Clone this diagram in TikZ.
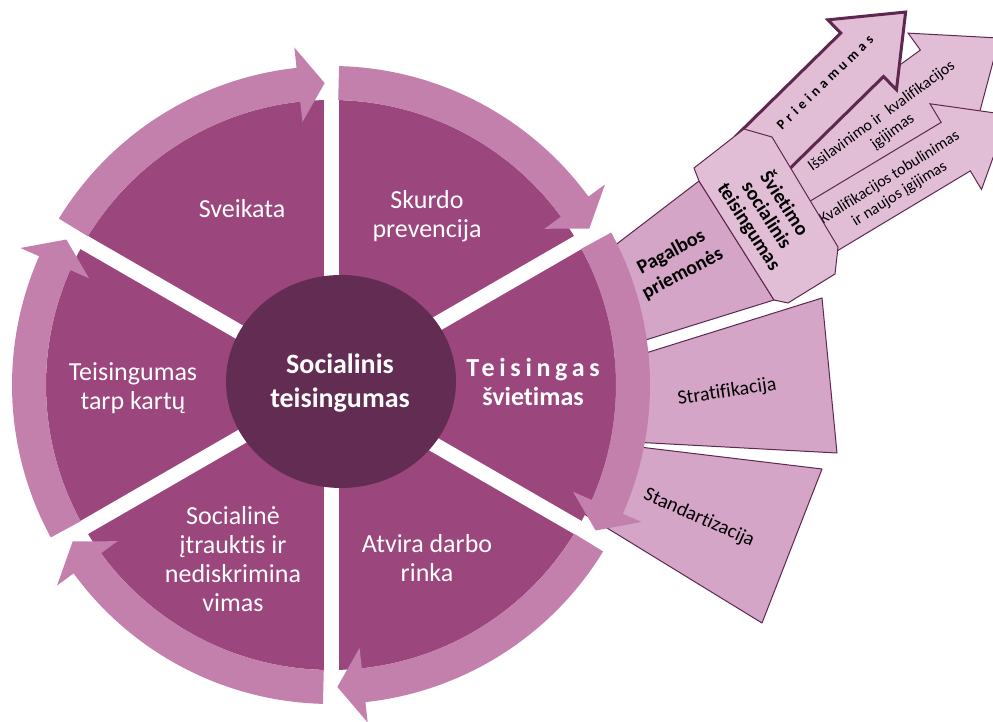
\documentclass[tikz,border=0pt]{standalone}
\usepackage{fontspec}
\setmainfont[Ligatures=NoCommon]{Carlito}
\newfontfamily\spaced[LetterSpace=18,Ligatures=NoCommon]{Carlito}
\newfontfamily\widespaced[LetterSpace=29,Ligatures=NoCommon]{Carlito}
\usetikzlibrary{calc,shapes.geometric}

\definecolor{segpurple}{RGB}{155,70,125}
\definecolor{ringpink}{RGB}{196,128,173}
\definecolor{centerplum}{RGB}{99,44,82}
\definecolor{boxpink}{RGB}{212,165,198}
\definecolor{lightpink}{RGB}{225,189,214}
\definecolor{edgeplum}{RGB}{94,39,80}

\tikzset{
  segtext/.style={text=white, align=center, inner sep=0pt, font=\fontsize{26}{29}\selectfont},
  sidebox/.style={fill=boxpink, draw=edgeplum, line width=1pt, line join=round},
  sidearrow/.style={fill=lightpink, draw=edgeplum, line width=1pt, line join=miter},
  sidetext/.style={align=center, inner sep=0pt, font=\fontsize{16}{19}\selectfont},
  boldtext/.style={align=center, inner sep=0pt, font=\fontsize{20}{21}\selectfont\bfseries},
}

\begin{document}
\begin{tikzpicture}[x=1pt,y=1pt]
    \useasboundingbox (0,0) rectangle (993,722);
    \clip (0,0) rectangle (993,722);
    % Centras
    \coordinate (O) at (331,337);

    % Kastes uz ziedo
    \draw[sidebox] (571,443) -- (699,541) -- (774,422) -- (591,365) -- cycle;
    \draw[sidebox] (601,355) -- (822,424) -- (837,269) -- (595,282) -- cycle;
    \draw[sidebox] (598,280) -- (822,253) -- (762,99) -- (576,213) -- cycle;

    % Segmentai
    \fill[segpurple] (O) circle[radius=285];
    \foreach \a in {30,90,...,330}
        \draw[white, line width=15pt] (O) -- ++(\a:322);

    % Rodykles aplink
    \begin{scope}[shift={(O)}]
    \foreach \a in {30,90,...,330}
        \fill[ringpink] ({\a+58.55}:285) arc[start angle=\a+58.55, end angle=\a+6.2, radius=285]
            -- ({\a+6.2}:264.5) -- ({\a+1.2}:302) -- ({\a+6.2}:339.5) -- ({\a+6.2}:319)
            arc[start angle=\a+6.2, end angle=\a+58.55, radius=319] -- cycle;
    \end{scope}

    \node[ellipse, fill=centerplum, minimum width=230pt, minimum height=213pt, inner sep=0pt] (hub) at (341,340.5) {};
    \node[segtext, font=\fontsize{28}{34}\selectfont\bfseries] (socteis) at (340,339) {Socialinis\\teisingumas};

    \node[segtext] (sveikata) at (242,513) {Sveikata};
    \node[segtext] (skurdas) at (427,506) {Skurdo\\prevencija};
    \node[segtext] (kartos) at (133,334) {Teisingumas\\tarp kartų};
    \node[segtext] (itrauktis) at (233,163) {Socialinė\\įtrauktis ir\\nediskrimina\\vimas};
    \node[segtext] (rinka) at (427,164) {Atvira darbo\\rinka};
    \node[segtext, font=\fontsize{26}{29}\selectfont\bfseries] (svietimas) at (533,340) {{\spaced Teisingas}\\švietimas};

    % Svietimo rodykles
    \begin{scope}[shift={(784.2,527.6)}, rotate=36]
        \draw[sidearrow] (0,36.75) -- (195,36.75) -- (195,57.65) -- (266,0) -- (195,-57.65) -- (195,-36.75) -- (0,-36.75) -- cycle;
        \node[sidetext, rotate=36] (issilavinimas) at (124.7,-3.65) {Išsilavinimo ir~ kvalifikacijos\\įgijimas};
    \end{scope}
    \begin{scope}[shift={(798.2,480.7)}, rotate=31]
        \draw[sidearrow] (0,28.3) -- (183.8,28.3) -- (183.8,50) -- (245.4,0) -- (183.8,-50) -- (183.8,-28.3) -- (0,-28.3) -- cycle;
        \node[sidetext, rotate=32] (tobulinimas) at (111.2,-2.2) {Kvalifikacijos tobulinimas\\ir naujos įgijimas};
    \end{scope}
    \begin{scope}[shift={(757.7,564.6)}, rotate=44.5]
        \draw[sidearrow, line width=3pt] (0,30.5) -- (146.4,30.5) -- (146.4,49) -- (207.4,0) -- (146.4,-49) -- (146.4,-30.5) -- (0,-30.5) -- cycle;
        \node[inner sep=0pt, rotate=44, font=\fontsize{14}{16}\selectfont\bfseries] (prieinamumas) at (100.7,6.7) {\widespaced Prieinamumas};
    \end{scope}

    % Astuonkampis
    \draw[sidearrow] (694,554) -- (744,593) -- (772,585) -- (838,475) -- (835,448) -- (788,419) -- (774,422) -- (699,541) -- cycle;
    \node[boldtext, rotate=-57] (svsoc) at (767,507) {Švietimo\\socialinis\\teisingumas};

    \node[boldtext, font=\fontsize{20}{24}\selectfont\bfseries, rotate=28] (pagalba) at (677,459) {Pagalbos\\priemonės};
    \node[sidetext, font=\fontsize{20}{24}\selectfont, rotate=8.5] (strat) at (727,330) {Stratifikacija};
    \node[sidetext, font=\fontsize{20}{24}\selectfont, rotate=-24] (stand) at (699,204) {Standartizacija};
\end{tikzpicture}
\end{document}
